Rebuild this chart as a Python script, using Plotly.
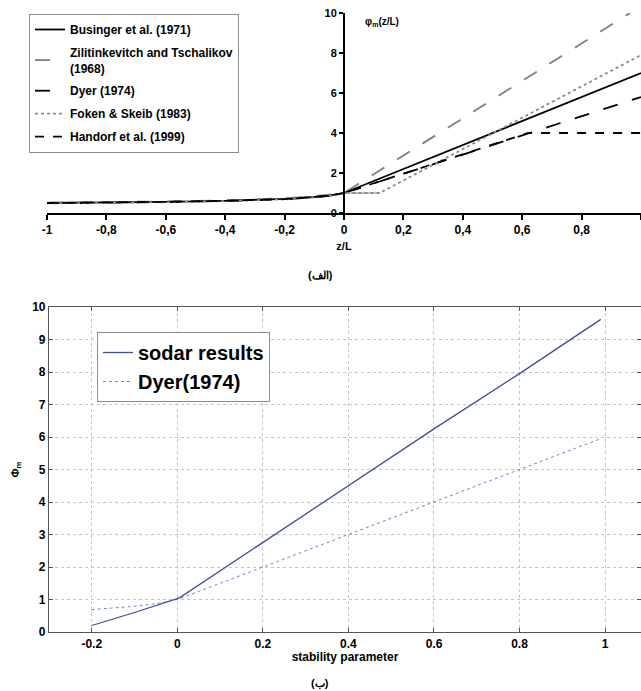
import plotly.graph_objects as go

# ---------- top panel data (z/L, phi_m) ----------
zeta_unstable = [-1.0, -0.8, -0.6, -0.4, -0.3, -0.2, -0.1, -0.05, 0.0]

businger_x = zeta_unstable + [0.5, 1.0]
businger_y = [0.50, 0.52, 0.56, 0.61, 0.65, 0.71, 0.80, 0.87, 1.0, 4.0, 7.0]

zilit_x = zeta_unstable + [0.963]
zilit_y = [0.52, 0.54, 0.58, 0.63, 0.67, 0.74, 0.84, 0.91, 1.0, 10.0]

dyer_top_x = zeta_unstable + [1.0]
dyer_top_y = [0.49, 0.51, 0.55, 0.60, 0.64, 0.69, 0.79, 0.86, 1.0, 5.8]

foken_x = zeta_unstable + [0.12, 1.0]
foken_y = [0.48, 0.50, 0.54, 0.59, 0.63, 0.68, 0.78, 0.85, 1.0, 1.0, 7.9]
foken_flat_x = [0.0, 0.12]
foken_flat_y = [1.0, 1.0]

handorf_x = zeta_unstable + [0.62, 1.0]
handorf_y = [0.50, 0.52, 0.56, 0.61, 0.65, 0.70, 0.80, 0.87, 1.0, 4.0, 4.0]

top_ticks = [-1, -0.8, -0.6, -0.4, -0.2, 0, 0.2, 0.4, 0.6, 0.8, 1]
top_ticktext = ["-1", "-0,8", "-0,6", "-0,4", "-0,2", "0", "0,2", "0,4", "0,6", "0,8", "1"]
top_yticks = [0, 2, 4, 6, 8, 10]

# ---------- bottom panel data ----------
sodar_x = [-0.2, -0.1, 0.005, 0.2, 0.4, 0.6, 0.8, 0.99]
sodar_y = [0.2, 0.6, 1.05, 2.75, 4.5, 6.25, 7.95, 9.62]

dyer_x = [-0.2, -0.1, -0.05, 0.0, 0.2, 0.4, 0.6, 0.8, 0.99]
dyer_y = [0.69, 0.79, 0.87, 1.0, 2.0, 3.0, 4.0, 5.0, 5.95]

bot_xticks = [-0.2, 0, 0.2, 0.4, 0.6, 0.8, 1]
bot_yticks = list(range(0, 11))

FONT = "Liberation Sans, Arial, sans-serif"
BLUE = "#3b4ea6"

fig = go.Figure()

# top traces
fig.add_trace(go.Scatter(x=businger_x, y=businger_y, mode="lines",
                         name="<b>Businger et al. (1971)</b>",
                         line=dict(color="black", width=1.8),
                         xaxis="x", yaxis="y", legend="legend", legendgroup="a"))
fig.add_trace(go.Scatter(x=zilit_x, y=zilit_y, mode="lines",
                         name="<b>Zilitinkevitch and Tschalikov<br>(1968)</b>",
                         line=dict(color="#7f7f7f", width=1.8, dash="longdash"),
                         xaxis="x", yaxis="y", legend="legend", legendgroup="b"))
fig.add_trace(go.Scatter(x=dyer_top_x, y=dyer_top_y, mode="lines",
                         name="<b>Dyer (1974)</b>",
                         line=dict(color="black", width=1.8, dash="longdash"),
                         xaxis="x", yaxis="y", legend="legend", legendgroup="c"))
fig.add_trace(go.Scatter(x=foken_x, y=foken_y, mode="lines",
                         name="<b>Foken & Skeib (1983)</b>",
                         line=dict(color="#8a8a8a", width=1.8, dash="dot"),
                         xaxis="x", yaxis="y", legend="legend", legendgroup="d"))
fig.add_trace(go.Scatter(x=foken_flat_x, y=foken_flat_y, mode="lines",
                         showlegend=False,
                         line=dict(color="#8a8a8a", width=1.2),
                         xaxis="x", yaxis="y"))
fig.add_trace(go.Scatter(x=handorf_x, y=handorf_y, mode="lines",
                         name="<b>Handorf et al. (1999)</b>",
                         line=dict(color="black", width=1.8, dash="dash"),
                         xaxis="x", yaxis="y", legend="legend", legendgroup="e"))

# bottom traces
fig.add_trace(go.Scatter(x=sodar_x, y=sodar_y, mode="lines",
                         name="<b>sodar results</b>",
                         line=dict(color=BLUE, width=1.3),
                         xaxis="x2", yaxis="y2", legend="legend2"))
fig.add_trace(go.Scatter(x=dyer_x, y=dyer_y, mode="lines",
                         name="<b>Dyer(1974)</b>",
                         line=dict(color="#5566b0", width=0.8, dash="dot"),
                         xaxis="x2", yaxis="y2", legend="legend2"))

W, H = 641, 691
top_y0 = 1 - 213 / H
top_y1 = 1 - 13 / H
bot_y0 = 1 - 632 / H
bot_y1 = 1 - 307 / H

fig.update_layout(
    width=W, height=H,
    margin=dict(l=0, r=0, t=0, b=0, autoexpand=False),
    paper_bgcolor="white", plot_bgcolor="white",
    font=dict(family=FONT, color="black"),
    xaxis=dict(domain=[47 / W, 1.0], range=[-1, 1.0], anchor="y",
               automargin=False,
               tickvals=top_ticks, ticktext=top_ticktext,
               tickfont=dict(size=12, weight="bold"),
               showline=True, linecolor="black", linewidth=2,
               ticks="outside", ticklen=5, tickwidth=2, tickcolor="black",
               showgrid=False, zeroline=False,
               title=dict(text="<b>z/L</b>", font=dict(size=11), standoff=6)),
    yaxis=dict(domain=[top_y0, top_y1], range=[0, 10], anchor="free",
               position=344 / W, automargin=False,
               tickvals=top_yticks,
               tickfont=dict(size=11, weight="bold"),
               showline=True, linecolor="black", linewidth=2,
               ticks="outside", ticklen=4, tickwidth=2, tickcolor="black",
               showgrid=False, zeroline=False),
    xaxis2=dict(domain=[49 / W, 1.0], range=[-0.3, 1.084], anchor="y2",
                automargin=False,
                tickvals=bot_xticks, ticktext=["-0.2", "0", "0.2", "0.4", "0.6", "0.8", "1"],
                tickfont=dict(size=12, weight="bold"),
                showline=True, linecolor="#555555", linewidth=1.2, mirror="ticks",
                ticks="inside", ticklen=4, tickcolor="#555555",
                showgrid=True, gridcolor="#c4c4c4", griddash="dot", gridwidth=1,
                zeroline=False,
                title=dict(text="<b>stability parameter</b>", font=dict(size=12), standoff=2)),
    yaxis2=dict(domain=[bot_y0, bot_y1], range=[0, 10], anchor="x2",
                automargin=False,
                tickvals=bot_yticks,
                tickfont=dict(size=12, weight="bold"),
                showline=True, linecolor="#555555", linewidth=1.2, mirror="ticks",
                ticks="inside", ticklen=4, tickcolor="#555555",
                showgrid=True, gridcolor="#c4c4c4", griddash="dot", gridwidth=1,
                zeroline=False,
                title=dict(text="<b>Φ<sub>m</sub></b>", font=dict(size=11), standoff=10)),
    legend=dict(x=29 / W, y=1 - 14 / H, xanchor="left", yanchor="top",
                bgcolor="white", bordercolor="#8c8c8c", borderwidth=1,
                font=dict(size=12, color="black"),
                traceorder="grouped", tracegroupgap=4,
                itemwidth=30),
    legend2=dict(x=97 / W, y=1 - 332 / H, xanchor="left", yanchor="top",
                 bgcolor="white", bordercolor="#8c8c8c", borderwidth=1,
                 font=dict(size=20, color="black"),
                 itemwidth=30, tracegroupgap=0),
    annotations=[
        dict(text="<b>φ<sub>m</sub>(z/L)</b>", x=363 / W, y=1 - 22 / H,
             xref="paper", yref="paper", xanchor="left", yanchor="middle",
             showarrow=False, font=dict(size=10)),
        dict(text="<b>(الف)</b>", x=320 / W, y=1 - 275 / H,
             xref="paper", yref="paper", xanchor="center", yanchor="middle",
             showarrow=False, font=dict(size=11)),
        dict(text="<b>(ب)</b>", x=320 / W, y=1 - 683 / H,
             xref="paper", yref="paper", xanchor="center", yanchor="middle",
             showarrow=False, font=dict(size=11)),
    ],
)

fig.write_html("out.html",
               config={"displayModeBar": False},
               post_script="document.body.style.margin='0';document.body.style.overflow='hidden';")
